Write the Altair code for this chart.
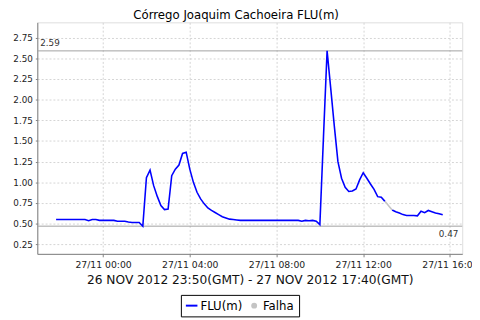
import altair as alt
import pandas as pd

# 10-minute readings (local time axis), 26/11 21:50 -> 27/11 15:40
start_time = "2012-11-26T21:50:00Z"
n_points = 108
flu = [
    0.55,
    0.55, 0.55, 0.55, 0.55, 0.55, 0.55,             # 22:00
    0.55, 0.55, 0.535, 0.55, 0.55, 0.54,            # 23:00
    0.54, 0.54, 0.54, 0.54, 0.53, 0.53,             # 00:00
    0.53, 0.52, 0.515, 0.515, 0.515, 0.47,          # 01:00
    1.056, 1.147, 0.96, 0.83, 0.72, 0.67,           # 02:00
    0.678, 1.08, 1.16, 1.21, 1.35, 1.365,           # 03:00
    1.16, 1.0, 0.88, 0.80, 0.74, 0.69,              # 04:00
    0.66, 0.635, 0.61, 0.585, 0.57, 0.555,          # 05:00
    0.55, 0.545, 0.54, 0.54, 0.54, 0.54,            # 06:00
    0.54, 0.54, 0.54, 0.54, 0.54, 0.54,             # 07:00
    0.54, 0.54, 0.54, 0.54, 0.54, 0.54,             # 08:00
    0.54, 0.53, 0.54, 0.535, 0.54, 0.53,            # 09:00
    0.488, 1.55, 2.59, 2.14, 1.68, 1.25,            # 10:00
    1.05, 0.94, 0.89, 0.895, 0.92, 1.03,            # 11:00
    1.116, 1.05, 0.98, 0.915, 0.827, 0.82,          # 12:00
    0.77, None, 0.665, 0.645, 0.63, 0.61,           # 13:00
    0.60, 0.60, 0.60, 0.595, 0.65, 0.634,           # 14:00
    0.66, 0.645, 0.63, 0.62, 0.607,                 # 15:00
]
limits = [2.59, 0.47]
limit_labels = ["2.59", "0.47"]
y_ticks = [0.25, 0.5, 0.75, 1.0, 1.25, 1.5, 1.75, 2.0, 2.25, 2.5, 2.75]
x_ticks = ["2012-11-27T00:00:00Z", "2012-11-27T04:00:00Z", "2012-11-27T08:00:00Z",
           "2012-11-27T12:00:00Z", "2012-11-27T16:00:00Z"]
x_domain = ["2012-11-26T20:58:00Z", "2012-11-27T16:34:00Z"]
y_domain = [0.135, 2.935]
series_names = ["FLU(m)", "Falha"]
series_colors = ["#0000ff", "#c4c4c4"]

times = pd.date_range(start_time, periods=n_points, freq="10min")
df = pd.DataFrame({"t": times, "v": flu, "serie": "FLU(m)"})
df["t"] = df["t"].dt.strftime("%Y-%m-%dT%H:%M:%SZ")

# gap segment (Falha): neighbours of missing readings
gap_rows = []
for i, val in enumerate(flu):
    if val is None:
        gap_rows.append(df.iloc[i - 1])
        gap_rows.append(df.iloc[i + 1])
gap = pd.DataFrame(gap_rows).copy()
gap["serie"] = "Falha"
gap["seg"] = [k // 2 for k in range(len(gap))]

ms = lambda s: int(pd.Timestamp(s).value // 10**6)

font = "DejaVu Sans"
x_enc = alt.X("t:T",
              scale=alt.Scale(type="utc", domain=[ms(d) for d in x_domain]),
              axis=alt.Axis(values=[ms(v) for v in x_ticks], format="%d/%m %H:%M",
                            labelFontSize=9.5, labelFont=font, labelColor="#222",
                            tickSize=3, tickColor="#808080", domainColor="#808080",
                            labelPadding=3, labelFlush=False, labelOverlap=False,
                            gridDash=[2, 2], gridColor="#d4d4d4",
                            title="26 NOV 2012 23:50(GMT) - 27 NOV 2012 17:40(GMT)",
                            titleFont=font, titleFontSize=12.5, titleFontWeight="normal",
                            titleColor="#111", titlePadding=5))
y_enc = alt.Y("v:Q",
              scale=alt.Scale(domain=y_domain, nice=False, zero=False),
              axis=alt.Axis(values=y_ticks, format=".2f", labelFontSize=9,
                            labelFont=font, labelColor="#222", tickSize=2,
                            tickColor="#808080", domainColor="#808080", labelPadding=3,
                            labelOverlap=False, labelFlush=False,
                            gridDash=[2, 2], gridColor="#d4d4d4", title=None))

color_enc = alt.Color(
    "serie:N",
    scale=alt.Scale(domain=series_names, range=series_colors),
    legend=alt.Legend(
        orient="none", legendX=147, legendY=279, direction="horizontal", title=None,
        strokeColor="black", padding=5, labelFont=font, labelFontSize=12,
        labelColor="black",
        symbolType=alt.ExprRef("datum.value == 'Falha' ? 'circle' : 'stroke'"),
        symbolFillColor=alt.ExprRef("datum.value == 'Falha' ? '#c4c4c4' : 'transparent'"),
        symbolSize=alt.ExprRef("datum.value == 'Falha' ? 36 : 140"),
        symbolStrokeWidth=alt.ExprRef("datum.value == 'Falha' ? 0 : 2"),
        columnPadding=6, labelOffset=3,
    ),
)

line = alt.Chart(df).mark_line(strokeWidth=1.6).encode(x=x_enc, y=y_enc, color=color_enc)
gap_line = alt.Chart(gap).mark_line(strokeWidth=1.6).encode(
    x=x_enc, y=y_enc, color=color_enc, detail="seg:N")

lim_df = pd.DataFrame({"v": limits, "label": limit_labels})
rules = alt.Chart(lim_df).mark_rule(color="#a0a0a0", strokeWidth=1).encode(y=y_enc)
lab_top = alt.Chart(lim_df.iloc[[0]]).mark_text(
    align="left", baseline="bottom", dx=3, dy=-3, fontSize=9, font=font, color="#333"
).encode(x=alt.value(0), y=y_enc, text="label:N")
lab_bot = alt.Chart(lim_df.iloc[[1]]).mark_text(
    align="right", baseline="top", dx=-4, dy=4, fontSize=9, font=font, color="#333"
).encode(x=alt.value(435), y=y_enc, text="label:N")

chart = alt.layer(rules, lab_top, lab_bot, line, gap_line).properties(
    width=435, height=237,
    autosize=alt.AutoSizeParams(type="none"),
    padding={"left": 30, "top": 11, "right": 10, "bottom": 64},
    title=alt.TitleParams("Córrego Joaquim Cachoeira FLU(m)", font=font, fontSize=12,
                          fontWeight="normal", color="black", anchor="middle",
                          dx=-14, offset=0),
).configure_view(stroke="#b0b0b0", strokeWidth=1).configure_axisY(
    labelOverlap=False).configure(background="white")

chart.save("out.html", embed_options={"renderer": "svg", "actions": False})
